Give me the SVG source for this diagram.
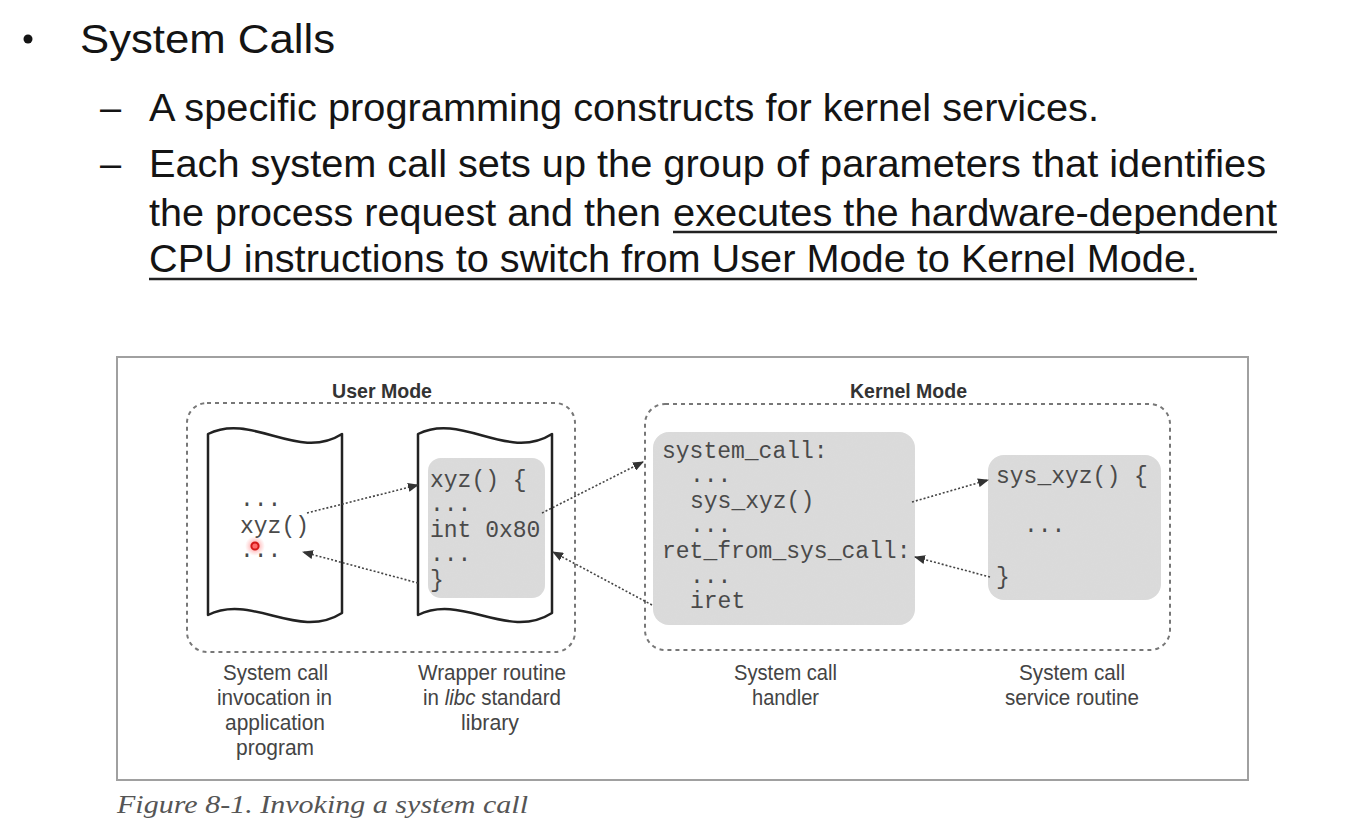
<svg xmlns="http://www.w3.org/2000/svg" width="1364" height="836" viewBox="0 0 1364 836">
  <style>
    .slide { font-family: "Liberation Sans", Arial, sans-serif; fill: #141414; }
    .code { font-family: "Liberation Mono", "Courier New", monospace; font-size: 23px; fill: #4a4a4a; }
    .mode { font-family: "Liberation Sans Narrow", "Liberation Sans", sans-serif; font-size: 21px; font-weight: bold; fill: #333; }
    .label { font-family: "Liberation Sans Narrow", "Liberation Sans", sans-serif; font-size: 22px; fill: #444; }
    .caption { font-family: "Liberation Serif", "Times New Roman", serif; font-style: italic; font-size: 25px; fill: #555; }
    .region { fill: none; stroke: #777; stroke-width: 2; stroke-dasharray: 4 4; }
    .page { fill: #fff; stroke: #222; stroke-width: 2.5; stroke-linejoin: round; }
    .shade { fill: #dadada; }
    .flow { fill: none; stroke: #444; stroke-width: 1.6; stroke-dasharray: 2 2; marker-end: url(#tip); }
    .rule { stroke: #222; stroke-width: 2.4; }
  </style>
  <defs>
    <marker id="tip" markerUnits="userSpaceOnUse" markerWidth="11" markerHeight="9" refX="10" refY="4.5" orient="auto">
      <path d="M0,0 L11,4.5 L0,9 Z" fill="#333"/>
    </marker>
    <filter id="grain" x="0" y="0" width="1" height="1">
      <feTurbulence type="fractalNoise" baseFrequency="0.9" numOctaves="2" seed="7" result="noise"/>
      <feColorMatrix in="noise" type="matrix" values="0 0 0 0 0.72  0 0 0 0 0.72  0 0 0 0 0.72  0.9 0 0 0 -0.35" result="speck"/>
      <feComposite in="speck" in2="SourceGraphic" operator="in" result="clipped"/>
      <feMerge><feMergeNode in="SourceGraphic"/><feMergeNode in="clipped"/></feMerge>
    </filter>
    <radialGradient id="glow">
      <stop offset="0" stop-color="#ff4d4d" stop-opacity="0.7"/>
      <stop offset="1" stop-color="#ff8080" stop-opacity="0"/>
    </radialGradient>
  </defs>

  <rect width="1364" height="836" fill="#fff"/>

  <!-- slide bullet text -->
  <g id="slide-text">
    <circle cx="28" cy="39" r="4.5" fill="#141414"/>
    <text class="slide" x="80" y="53" font-size="40" textLength="255" lengthAdjust="spacingAndGlyphs">System Calls</text>
    <text class="slide" x="100" y="121" font-size="38">–</text>
    <text class="slide" x="149" y="121" font-size="38" textLength="950" lengthAdjust="spacingAndGlyphs">A specific programming constructs for kernel services.</text>
    <text class="slide" x="100" y="177" font-size="38">–</text>
    <text class="slide" x="149" y="177" font-size="38" textLength="1117" lengthAdjust="spacingAndGlyphs">Each system call sets up the group of parameters that identifies</text>
    <text class="slide" x="149" y="226" font-size="38" textLength="512" lengthAdjust="spacingAndGlyphs">the process request and then</text>
    <text class="slide" x="673" y="226" font-size="38" textLength="604" lengthAdjust="spacingAndGlyphs">executes the hardware-dependent</text>
    <text class="slide" x="149" y="272" font-size="38" textLength="1048" lengthAdjust="spacingAndGlyphs">CPU instructions to switch from User Mode to Kernel Mode.</text>
    <line class="rule" x1="673" y1="232" x2="1277" y2="232"/>
    <line class="rule" x1="149" y1="279" x2="1197" y2="279"/>
  </g>

  <!-- figure frame -->
  <rect id="frame" x="117" y="357" width="1131" height="423" fill="none" stroke="#a0a0a0" stroke-width="2"/>

  <!-- privilege regions -->
  <g id="user-mode">
    <rect class="region" x="187" y="403" width="388" height="249" rx="20"/>
    <text class="mode" x="332" y="398" textLength="100" lengthAdjust="spacingAndGlyphs">User Mode</text>
  </g>
  <g id="kernel-mode">
    <rect class="region" x="645" y="404" width="525" height="246" rx="20"/>
    <text class="mode" x="850" y="398" textLength="117" lengthAdjust="spacingAndGlyphs">Kernel Mode</text>
  </g>

  <!-- application program page -->
  <g id="app-program">
    <path class="page" d="M208,434 C252,412 298,462 342,434 L342,613 C298,641 252,593 208,615 Z"/>
    <text class="code" x="240" y="506">...</text>
    <text class="code" x="240" y="533">xyz()</text>
    <text class="code" x="240" y="557">...</text>
    <g id="pointer">
      <circle cx="255" cy="546" r="10" fill="url(#glow)"/>
      <circle cx="255" cy="546" r="3.6" fill="#ff6b6b" stroke="#d41818" stroke-width="2"/>
    </g>
  </g>

  <!-- libc wrapper page -->
  <g id="wrapper-routine">
    <path class="page" d="M418,434 C462,412 508,462 552,434 L552,613 C508,641 462,593 418,615 Z"/>
    <rect class="shade" x="428" y="458" width="117" height="140" rx="13" filter="url(#grain)"/>
    <text class="code" x="430" y="487">xyz() {</text>
    <text class="code" x="430" y="511">...</text>
    <text class="code" x="430" y="537">int 0x80</text>
    <text class="code" x="430" y="561">...</text>
    <text class="code" x="430" y="587">}</text>
  </g>

  <!-- system call handler -->
  <g id="syscall-handler">
    <rect class="shade" x="653" y="432" width="262" height="193" rx="16" filter="url(#grain)"/>
    <text class="code" x="662" y="458">system_call:</text>
    <text class="code" x="690" y="482">...</text>
    <text class="code" x="690" y="508">sys_xyz()</text>
    <text class="code" x="690" y="532">...</text>
    <text class="code" x="662" y="558">ret_from_sys_call:</text>
    <text class="code" x="690" y="583">...</text>
    <text class="code" x="690" y="608">iret</text>
  </g>

  <!-- service routine -->
  <g id="service-routine">
    <rect class="shade" x="988" y="455" width="173" height="145" rx="16" filter="url(#grain)"/>
    <text class="code" x="996" y="483">sys_xyz() {</text>
    <text class="code" x="1024" y="532">...</text>
    <text class="code" x="996" y="584">}</text>
  </g>

  <!-- control transfers -->
  <g id="connectors">
    <path class="flow" d="M307,513 L418,485"/>
    <path class="flow" d="M418,583 L303,552"/>
    <path class="flow" d="M542,513 L643,462"/>
    <path class="flow" d="M652,605 L553,552"/>
    <path class="flow" d="M912,502 L988,480"/>
    <path class="flow" d="M990,577 L915,557"/>
  </g>

  <!-- captions under each stage -->
  <g id="labels">
    <text class="label" x="223" y="680" textLength="105" lengthAdjust="spacingAndGlyphs">System call</text>
    <text class="label" x="217" y="705" textLength="115" lengthAdjust="spacingAndGlyphs">invocation in</text>
    <text class="label" x="225" y="730" textLength="100" lengthAdjust="spacingAndGlyphs">application</text>
    <text class="label" x="236" y="755" textLength="78" lengthAdjust="spacingAndGlyphs">program</text>

    <text class="label" x="418" y="680" textLength="148" lengthAdjust="spacingAndGlyphs">Wrapper routine</text>
    <text class="label" x="423" y="705" textLength="138" lengthAdjust="spacingAndGlyphs">in <tspan font-style="italic">libc</tspan> standard</text>
    <text class="label" x="461" y="730" textLength="58" lengthAdjust="spacingAndGlyphs">library</text>

    <text class="label" x="734" y="680" textLength="103" lengthAdjust="spacingAndGlyphs">System call</text>
    <text class="label" x="752" y="705" textLength="67" lengthAdjust="spacingAndGlyphs">handler</text>

    <text class="label" x="1019" y="680" textLength="106" lengthAdjust="spacingAndGlyphs">System call</text>
    <text class="label" x="1005" y="705" textLength="134" lengthAdjust="spacingAndGlyphs">service routine</text>
  </g>

  <text id="figure-caption" class="caption" x="117" y="813" textLength="411" lengthAdjust="spacingAndGlyphs">Figure 8-1. Invoking a system call</text>
</svg>
